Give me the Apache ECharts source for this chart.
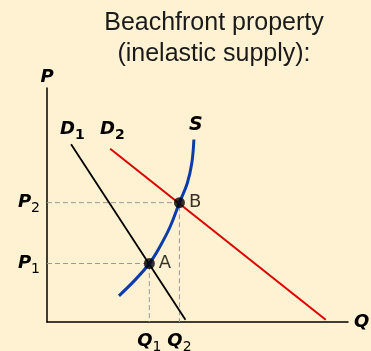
<!DOCTYPE html>
<html>
<head>
<meta charset="utf-8">
<script src="https://cdn.jsdelivr.net/npm/echarts@6/dist/echarts.min.js"></script>
<style>
  html, body { margin: 0; padding: 0; background: #fff2d2; }
  #chart { width: 371px; height: 351px; }
</style>
</head>
<body>
<div id="chart"></div>
<script>
// demand / supply curves (x = quantity, y = price, 0..100 scale)
const demand1 = [[8, 76], [46, 1]];
const demand2 = [[21, 74], [92.6, 1]];
const supply = [[23.9, 11.2], [29.2, 17.9], [34, 25], [37.5, 32.2], [40.9, 40.7], [44, 51], [46.6, 59.3], [48.1, 67.8], [48.8, 78]];
// equilibrium points A and B
const equilibria = [[34, 25], [44, 51]];
const pointNames = ['A', 'B'];
const subscripts = ['1', '2'];

const labelFont = 'DejaVu Sans';

// 下标富文本
const subRich = (mainColor) => ({
  m: { fontFamily: labelFont, fontSize: 18, fontWeight: 'bold', fontStyle: 'italic', color: mainColor },
  s: { fontFamily: labelFont, fontSize: 14, color: mainColor, padding: [12, 0, 0, 0] },
  sb: { fontFamily: labelFont, fontSize: 14, fontWeight: 'bold', color: mainColor, padding: [12, 0, 0, 0] },
});

const guideSeries = equilibria.map(p => ({
  type: 'line',
  data: [[0, p[1]], p, [p[0], 0]],
  showSymbol: false,
  silent: true,
  lineStyle: { color: '#999', width: 1, type: [5, 3] },
  z: 1,
}));

const subFor = (dim, v) => subscripts[equilibria.findIndex(p => p[dim] === v)];

const option = {
  backgroundColor: '#fff2d2',
  animation: false,
  title: {
    text: 'Beachfront property\n(inelastic supply):',
    left: 209,
    top: 3,
    textAlign: 'center',
    textStyle: {
      fontFamily: 'Liberation Sans',
      fontSize: 25,
      fontWeight: 'normal',
      color: '#1a1a1a',
      lineHeight: 31,
    },
  },
  grid: {
    left: 47,
    top: 88,
    width: 301,
    height: 234,
    outerBoundsMode: 'none',
  },
  xAxis: {
    type: 'value',
    min: 0,
    max: 100,
    splitLine: { show: false },
    axisTick: { show: false },
    axisLine: { lineStyle: { color: '#000', width: 1.5 } },
    name: 'Q',
    nameLocation: 'end',
    nameGap: 6,
    nameTextStyle: { fontFamily: labelFont, fontSize: 18, fontWeight: 'bold', fontStyle: 'italic', color: '#000' },
    axisLabel: {
      customValues: equilibria.map(p => p[0]),
      formatter: (v) => '{m|Q}{s|' + subFor(0, v) + '}',
      margin: 6,
      rich: subRich('#000'),
    },
  },
  yAxis: {
    type: 'value',
    min: 0,
    max: 100,
    splitLine: { show: false },
    axisTick: { show: false },
    axisLine: { lineStyle: { color: '#000', width: 1.5 } },
    name: 'P',
    nameLocation: 'end',
    nameGap: 2,
    nameTextStyle: { fontFamily: labelFont, fontSize: 18, fontWeight: 'bold', fontStyle: 'italic', color: '#000', align: 'center' },
    axisLabel: {
      customValues: equilibria.map(p => p[1]),
      formatter: (v) => '{m|P}{s|' + subFor(1, v) + '}',
      margin: 7,
      rich: subRich('#000'),
    },
  },
  graphic: [
    { type: 'text', left: 60, top: 120, style: { text: '{m|D}{sb|1}', rich: subRich('#000') } },
    { type: 'text', left: 100, top: 120, style: { text: '{m|D}{sb|2}', rich: subRich('#b0103a') } },
    { type: 'text', left: 189, top: 116, style: { text: 'S', fontFamily: labelFont, fontSize: 19, fontWeight: 'bold', fontStyle: 'italic', fill: '#000' } },
  ],
  series: [
    ...guideSeries,
    {
      type: 'line',
      data: demand1,
      showSymbol: false,
      lineStyle: { color: '#000', width: 1.8 },
      z: 2,
    },
    {
      type: 'line',
      data: demand2,
      showSymbol: false,
      lineStyle: { color: '#dd0000', width: 2 },
      z: 2,
    },
    {
      type: 'line',
      data: supply,
      smooth: 0.4,
      showSymbol: false,
      lineStyle: { color: '#0a3caa', width: 3 },
      z: 3,
    },
    {
      type: 'scatter',
      data: equilibria,
      symbolSize: 11,
      itemStyle: { color: '#000' },
      label: {
        show: true,
        position: 'right',
        distance: 4,
        formatter: (p) => pointNames[p.dataIndex],
        fontFamily: labelFont,
        fontSize: 18,
        color: '#000',
      },
      z: 4,
    },
  ],
};

const chart = echarts.init(document.getElementById('chart'));
chart.setOption(option);
</script>
</body>
</html>
